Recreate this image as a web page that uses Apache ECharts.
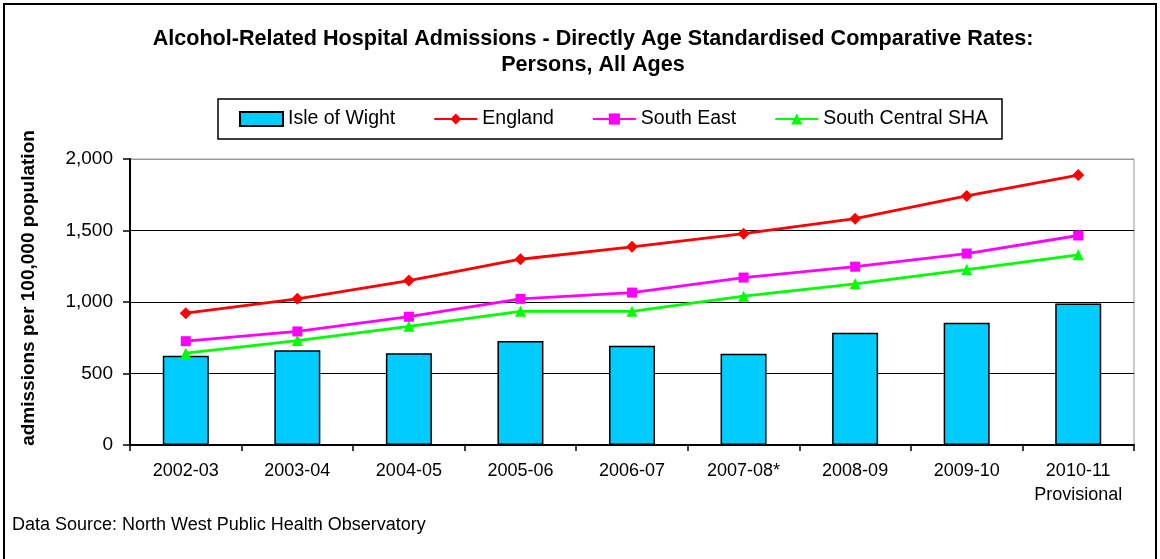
<!DOCTYPE html>
<html>
<head>
<meta charset="utf-8">
<script src="https://cdn.jsdelivr.net/npm/echarts@6/dist/echarts.min.js"></script>
<style>
  html, body { margin: 0; padding: 0; background: #fff; }
  #chart { width: 1160px; height: 559px; }
</style>
</head>
<body>
<div id="chart"></div>
<script>
// Financial years shown on the category axis
const years = ['2002-03', '2003-04', '2004-05', '2005-06', '2006-07', '2007-08*', '2008-09', '2009-10', '2010-11\nProvisional'];

// Directly age standardised rates, admissions per 100,000 population
const isleOfWight = [625, 662, 641, 728, 694, 638, 785, 855, 989];
const england = [922, 1022, 1150, 1299, 1386, 1478, 1583, 1742, 1888];
const southEast = [726, 794, 897, 1022, 1066, 1171, 1247, 1339, 1465];
const southCentral = [642, 730, 830, 935, 935, 1041, 1127, 1227, 1330];

// Value axis ticks
const yTicks = { min: 0, max: 2000, interval: 500 };

const FONT = '"Liberation Sans", Arial, sans-serif';

const chart = echarts.init(document.getElementById('chart'), null, { renderer: 'canvas' });

chart.setOption({
  backgroundColor: '#ffffff',
  animation: false,
  textStyle: { fontFamily: FONT, color: '#000' },
  title: {
    text: 'Alcohol-Related Hospital Admissions - Directly Age Standardised Comparative Rates:\nPersons, All Ages',
    left: 588,
    textAlign: 'center',
    top: 21,
    textStyle: { fontFamily: FONT, fontSize: 21.6, fontWeight: 'bold', color: '#000', lineHeight: 26 }
  },
  legend: {
    left: 218,
    top: 99,
    padding: [10, 14, 10, 21],
    itemGap: 38,
    itemWidth: 43,
    itemHeight: 14,
    borderColor: '#000',
    borderWidth: 1.5,
    textStyle: { fontFamily: FONT, fontSize: 19.5, color: '#000' },
    data: [
      { name: 'Isle of Wight', icon: 'rect' },
      'England',
      'South East',
      'South Central SHA'
    ]
  },
  grid: {
    left: 130,
    right: 26,
    top: 159,
    bottom: 114,
    show: true,
    borderColor: '#999',
    borderWidth: 1,
    backgroundColor: 'transparent'
  },
  xAxis: {
    type: 'category',
    data: years,
    boundaryGap: true,
    axisLine: { lineStyle: { color: '#000', width: 2 } },
    axisTick: { show: true, interval: 0, length: 6, inside: false, lineStyle: { color: '#000', width: 1.5 } },
    axisLabel: { interval: 0, fontFamily: FONT, fontSize: 18, color: '#000', margin: 14, lineHeight: 24 }
  },
  yAxis: {
    type: 'value',
    min: yTicks.min,
    max: yTicks.max,
    interval: yTicks.interval,
    name: 'admissions per 100,000 population',
    nameLocation: 'middle',
    nameGap: 92,
    nameTextStyle: { fontFamily: FONT, fontSize: 19, fontWeight: 'bold', color: '#000', padding: [0, 0, 0, 28] },
    axisLine: { show: true, lineStyle: { color: '#000', width: 2 } },
    axisTick: { show: true, length: 7, inside: false, lineStyle: { color: '#000', width: 1.5 } },
    axisLabel: {
      fontFamily: FONT, fontSize: 19, color: '#000', margin: 17,
      formatter: v => v.toLocaleString('en-GB')
    },
    splitLine: { show: true, lineStyle: { color: ['#000', '#000', '#000', '#000', '#999'], width: 1 } }
  },
  series: [
    {
      name: 'Isle of Wight',
      type: 'bar',
      data: isleOfWight,
      barWidth: 46,
      itemStyle: { color: '#00CCFF', borderColor: '#000', borderWidth: 1.5 },
      z: 2
    },
    {
      name: 'England',
      type: 'line',
      data: england,
      symbol: 'diamond',
      symbolSize: 12,
      lineStyle: { color: '#FF0000', width: 2.8 },
      itemStyle: { color: '#FF0000' },
      z: 5
    },
    {
      name: 'South East',
      type: 'line',
      data: southEast,
      symbol: 'rect',
      symbolSize: 10,
      lineStyle: { color: '#FF00FF', width: 2.8 },
      itemStyle: { color: '#FF00FF' },
      z: 4
    },
    {
      name: 'South Central SHA',
      type: 'line',
      data: southCentral,
      symbol: 'triangle',
      symbolSize: 11,
      lineStyle: { color: '#00FF00', width: 2.8 },
      itemStyle: { color: '#00FF00' },
      z: 3
    }
  ],
  graphic: [
    {
      type: 'rect',
      shape: { x: 4, y: 4, width: 1152, height: 600 },
      style: { fill: 'none', stroke: '#000', lineWidth: 2 },
      silent: true
    },
    {
      type: 'text',
      left: 12,
      top: 516,
      style: { text: 'Data Source: North West Public Health Observatory', font: '18px ' + FONT, fill: '#000' }
    }
  ]
});
</script>
</body>
</html>
